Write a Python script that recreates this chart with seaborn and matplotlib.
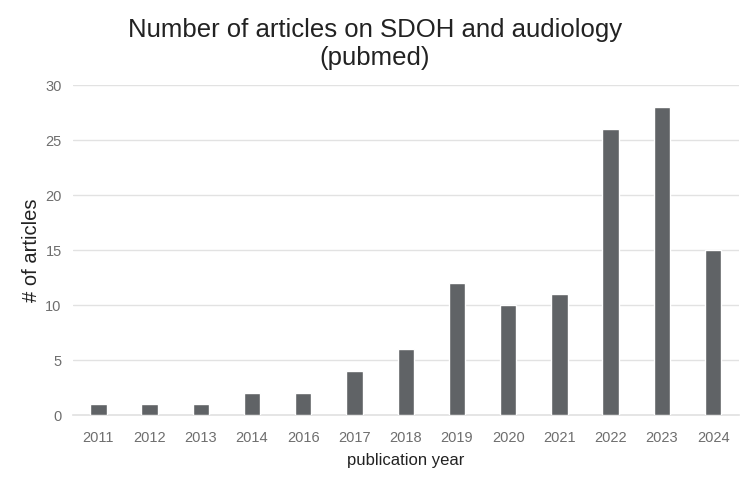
import matplotlib
matplotlib.use("Agg")
import matplotlib.pyplot as plt
import seaborn as sns
import pandas as pd

years = ["2011", "2012", "2013", "2014", "2016", "2017", "2018", "2019", "2020", "2021", "2022", "2023", "2024"]
counts = [1, 1, 1, 2, 2, 4, 6, 12, 10, 11, 26, 28, 15]

df = pd.DataFrame({"year": years, "count": counts})

sns.set_theme(style="white")
plt.rcParams["font.family"] = ["Liberation Sans", "DejaVu Sans"]

fig = plt.figure(figsize=(7.5, 4.82), dpi=100)
ax = fig.add_axes([0.097, 0.138, 0.888, 0.685])

sns.barplot(data=df, x="year", y="count", color="#606366", width=0.32,
            saturation=1, ax=ax, zorder=3)

ax.set_ylim(0, 30)
ax.set_yticks([0, 5, 10, 15, 20, 25, 30])
ax.yaxis.grid(True, color="#e2e2e2", linewidth=1, zorder=0)
ax.set_axisbelow(True)
for s in ["top", "right", "left"]:
    ax.spines[s].set_visible(False)
ax.spines["bottom"].set_color("#e2e2e2")
ax.tick_params(axis="both", length=0, labelsize=10.5, colors="#6e6e6e")
ax.tick_params(axis="x", pad=11)
ax.tick_params(axis="y", pad=8)
ax.set_xlim(-0.5, len(years) - 0.5)

ax.set_xlabel("publication year", fontsize=12, color="#222222", labelpad=6)
ax.set_ylabel("# of articles", fontsize=14.5, color="#222222", labelpad=3)
fig.suptitle("Number of articles on SDOH and audiology\n(pubmed)", fontsize=18.5,
             color="#222222", y=0.962, linespacing=1.2)

fig.savefig("out.png", dpi=100)
